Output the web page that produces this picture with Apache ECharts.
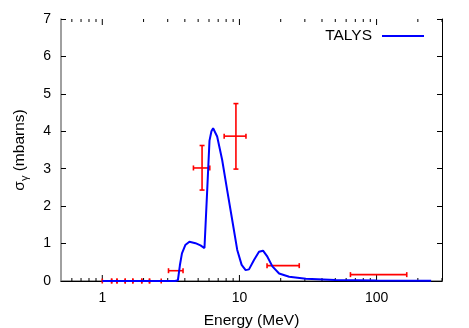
<!DOCTYPE html>
<html>
<head>
<meta charset="utf-8">
<script src="https://cdn.jsdelivr.net/npm/echarts@6/dist/echarts.min.js"></script>
<style>
  html, body { margin: 0; padding: 0; background: #fff; }
  #chart { width: 469px; height: 328px; }
</style>
</head>
<body>
<div id="chart"></div>
<script>
// TALYS calculation: energy (MeV) vs cross section (mbarns)
const talysEnergy = [1.0, 3.4, 3.56, 3.68, 3.81, 4.03, 4.32, 4.78, 5.2, 5.56, 5.8, 6.05, 6.25, 6.43, 6.88, 7.48, 8.14, 8.86, 9.64, 10.38, 11.1, 11.74, 12.77, 13.89, 14.86, 15.99, 17.39, 19.47, 23.05, 30.5, 50, 100, 250]
const talysSigma = [0, 0, 0.02, 0.42, 0.74, 0.96, 1.05, 1.01, 0.95, 0.88, 2.3, 3.75, 4.0, 4.08, 3.86, 3.24, 2.43, 1.63, 0.83, 0.43, 0.29, 0.31, 0.56, 0.78, 0.81, 0.65, 0.39, 0.2, 0.115, 0.06, 0.03, 0.015, 0.005]

// measured points: centre, value, x-range and y-range
const expEnergy = [1.08, 1.22, 1.37, 1.57, 1.8, 2.07, 2.44, 3.45, 5.34, 9.43, 21, 100]
const expSigma = [0, 0, 0, 0, 0, 0, 0, 0.275, 3.02, 3.87, 0.41, 0.17]
const expElo = [1.0, 1.17, 1.28, 1.47, 1.67, 1.94, 2.21, 3.04, 4.62, 7.74, 15.9, 64.5]
const expEhi = [1.17, 1.28, 1.47, 1.67, 1.94, 2.21, 2.69, 3.88, 6.08, 11.16, 27.3, 166]
const expSlo = [null, null, null, null, null, null, null, null, 2.43, 2.99, null, null]
const expShi = [null, null, null, null, null, null, null, null, 3.62, 4.74, null, null]

const xMajorTicks = [1, 10, 100]
const xMinorTicks = [0.6, 0.7, 0.8, 0.9, 2, 3, 4, 5, 6, 7, 8, 9, 20, 30, 40, 50, 60, 70, 80, 90, 200, 300]

const FONT = 'Liberation Sans, Arial, sans-serif'

const chart = echarts.init(document.getElementById('chart'), null, { renderer: 'canvas' })

function errorItem(params, api) {
  const x = api.value(0)
  const y = api.value(1)
  const c = api.coord([x, y])
  const lo = api.coord([api.value(2), y])
  const hi = api.coord([api.value(3), y])
  const style = { stroke: '#ff0000', lineWidth: 1.6 }
  const cap = 2.5
  const children = [
    { type: 'line', shape: { x1: lo[0], y1: c[1], x2: hi[0], y2: c[1] }, style },
    { type: 'line', shape: { x1: lo[0], y1: c[1] - cap, x2: lo[0], y2: c[1] + cap }, style },
    { type: 'line', shape: { x1: hi[0], y1: c[1] - cap, x2: hi[0], y2: c[1] + cap }, style },
  ]
  const ylo = api.value(4)
  const yhi = api.value(5)
  if (!isNaN(ylo) && !isNaN(yhi)) {
    const b = api.coord([x, ylo])
    const t = api.coord([x, yhi])
    children.push(
      { type: 'line', shape: { x1: c[0], y1: b[1], x2: c[0], y2: t[1] }, style },
      { type: 'line', shape: { x1: c[0] - cap, y1: b[1], x2: c[0] + cap, y2: b[1] }, style },
      { type: 'line', shape: { x1: c[0] - cap, y1: t[1], x2: c[0] + cap, y2: t[1] }, style }
    )
  }
  return { type: 'group', children }
}

// log-axis ticks (top and bottom, pointing inward)
function tickItem(params, api) {
  const v = api.value(0)
  const len = api.value(1)
  const p = api.coord([v, 0])
  const cs = params.coordSys
  const style = { stroke: '#000', lineWidth: 1 }
  return {
    type: 'group',
    children: [
      { type: 'line', shape: { x1: p[0], y1: cs.y + cs.height, x2: p[0], y2: cs.y + cs.height - len }, style },
      { type: 'line', shape: { x1: p[0], y1: cs.y, x2: p[0], y2: cs.y + len }, style },
    ],
  }
}

chart.setOption({
  animation: false,
  backgroundColor: '#fff',
  textStyle: { fontFamily: FONT },
  grid: { left: 61, right: 27, top: 19, bottom: 47, containLabel: false, outerBoundsMode: 'none' },
  legend: {
    data: [{ name: 'TALYS', icon: 'rect' }],
    right: 40,
    top: 23,
    align: 'right',
    itemWidth: 42,
    itemHeight: 2,
    itemGap: 10,
    textStyle: { fontFamily: FONT, fontSize: 15.5, color: '#000', padding: [0, 5, 0, 0] },
  },
  xAxis: [
    {
      type: 'log',
      logBase: 10,
      min: 0.5,
      max: 300,
      position: 'bottom',
      name: 'Energy (MeV)',
      nameLocation: 'middle',
      nameGap: 32,
      nameTextStyle: { fontFamily: FONT, fontSize: 15.5, color: '#000' },
      splitLine: { show: false },
      axisLine: { lineStyle: { color: '#808080', width: 1.5 } },
      axisTick: { show: false },
      axisLabel: {
        margin: 10,
        fontFamily: FONT,
        fontSize: 14,
        color: '#000',
        showMinLabel: false,
        showMaxLabel: false,
        formatter: (v) => (xMajorTicks.includes(Math.round(v)) ? String(Math.round(v)) : ''),
      },
    },
    {
      type: 'log',
      logBase: 10,
      min: 0.5,
      max: 300,
      position: 'top',
      splitLine: { show: false },
      axisLine: { lineStyle: { color: '#000', width: 1 } },
      axisTick: { show: false },
      axisLabel: { show: false },
    },
  ],
  yAxis: [
    {
      type: 'value',
      min: 0,
      max: 7,
      interval: 1,
      position: 'left',
      name: '{a|σ}{b|γ}{a| (mbarns)}',
      nameLocation: 'middle',
      nameGap: 31,
      nameRotate: 90,
      nameTextStyle: {
        fontFamily: FONT,
        color: '#000',
        rich: {
          a: { fontFamily: FONT, fontSize: 15.5, color: '#000', lineHeight: 20, verticalAlign: 'middle' },
          b: { fontFamily: FONT, fontSize: 11, color: '#000', lineHeight: 20, verticalAlign: 'bottom' },
        },
      },
      splitLine: { show: false },
      axisLine: { show: true, lineStyle: { color: '#808080', width: 1.5 } },
      axisTick: { show: true, inside: true, length: 5, lineStyle: { color: '#000', width: 1 } },
      axisLabel: { margin: 10, fontFamily: FONT, fontSize: 14, color: '#000' },
    },
    {
      type: 'value',
      min: 0,
      max: 7,
      interval: 1,
      position: 'right',
      splitLine: { show: false },
      axisLine: { show: true, lineStyle: { color: '#000', width: 1 } },
      axisTick: { show: true, inside: true, length: 5, lineStyle: { color: '#000', width: 1 } },
      axisLabel: { show: false },
    },
  ],
  series: [
    {
      name: 'ticks',
      type: 'custom',
      xAxisIndex: 0,
      yAxisIndex: 0,
      renderItem: tickItem,
      data: xMajorTicks.map((v) => [v, 6]).concat(xMinorTicks.map((v) => [v, 3])),
      encode: { x: 0 },
      silent: true,
      clip: false,
      z: 3,
    },
    {
      name: 'TALYS',
      type: 'line',
      xAxisIndex: 0,
      yAxisIndex: 0,
      data: talysEnergy.map((e, i) => [e, talysSigma[i]]),
      showSymbol: false,
      symbol: 'none',
      smooth: false,
      itemStyle: { color: '#0000ff' },
      lineStyle: { color: '#0000ff', width: 2 },
      z: 5,
    },
    {
      name: 'data',
      type: 'custom',
      xAxisIndex: 0,
      yAxisIndex: 0,
      renderItem: errorItem,
      data: expEnergy.map((e, i) => [e, expSigma[i], expElo[i], expEhi[i], expSlo[i] ?? NaN, expShi[i] ?? NaN]),
      encode: { x: [0, 2, 3], y: [1, 4, 5] },
      clip: false,
      z: 4,
    },
  ],
})
</script>
</body>
</html>
